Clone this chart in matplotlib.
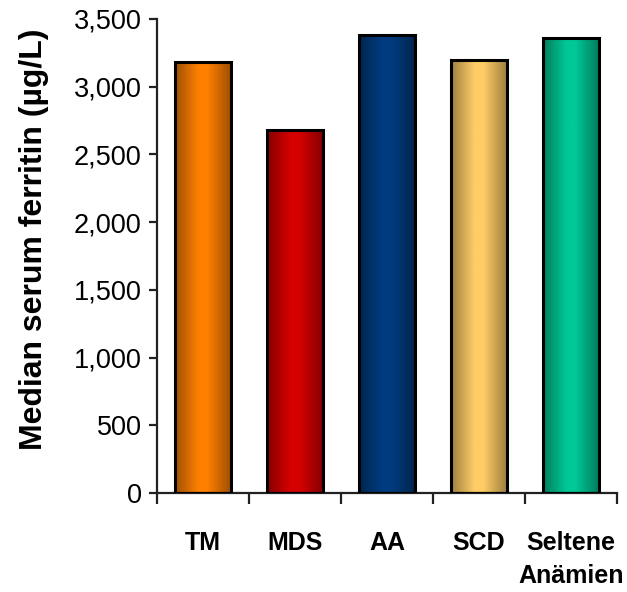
import numpy as np
import matplotlib
matplotlib.use("Agg")
import matplotlib.pyplot as plt
from matplotlib.patches import Rectangle
from matplotlib.colors import to_rgb
from matplotlib.ticker import FuncFormatter, FixedLocator

# Median serum ferritin by diagnosis
categories = ["TM", "MDS", "AA", "SCD", "Seltene\nAnämien"]
values = [3180, 2680, 3380, 3195, 3360]
bar_colors = ["#FF8000", "#D60000", "#003C80", "#FFCC66", "#00C896"]
y_ticks = [0, 500, 1000, 1500, 2000, 2500, 3000, 3500]
y_label = "Median serum ferritin (µg/L)"

fig = plt.figure(figsize=(6.27, 5.92), dpi=100)
ax = fig.add_axes([157 / 627, 1 - 493 / 592, 460 / 627, 474 / 592])

x = np.arange(len(categories))
width = 0.6

# horizontal shading profile: darker edges, bright middle
prof_x = np.linspace(0, 1, 256)
shade = np.interp(prof_x, [0, 0.42, 0.58, 1], [0.62, 1.0, 1.0, 0.62])

for xi, v, c in zip(x, values, bar_colors):
    base = np.array(to_rgb(c))
    img = (base[None, :] * shade[:, None])[None, :, :]
    img = np.clip(img, 0, 1)
    left = xi - width / 2
    rect = Rectangle((left, 0), width, v, facecolor="none",
                     edgecolor="black", linewidth=2.2, zorder=3)
    ax.add_patch(rect)
    im = ax.imshow(img, extent=(left, left + width, 0, v), aspect="auto",
                   interpolation="bilinear", zorder=2)
    im.set_clip_path(rect)

ax.set_xlim(-0.5, len(categories) - 0.5)
ax.set_ylim(0, 3500)

ax.spines["top"].set_visible(False)
ax.spines["right"].set_visible(False)
for s in ("left", "bottom"):
    ax.spines[s].set_linewidth(1.6)
    ax.spines[s].set_color("#222222")

ax.set_yticks(y_ticks)
ax.yaxis.set_major_formatter(FuncFormatter(lambda v, p: f"{int(v):,}"))
ax.tick_params(axis="y", direction="out", length=6, width=1.6,
               color="#222222", pad=5, labelsize=19.5)
for lab in ax.get_yticklabels():
    lab.set_fontfamily(["Liberation Sans", "DejaVu Sans"])

# category labels centred on bars, tick marks between categories
ax.set_xticks(x)
ax.set_xticklabels(categories)
ax.xaxis.set_minor_locator(FixedLocator(np.arange(-0.5, len(categories), 1.0)))
ax.tick_params(axis="x", which="major", length=0, pad=27)
ax.tick_params(axis="x", which="minor", direction="out", length=8,
               width=1.6, color="#222222")
for lab in ax.get_xticklabels():
    lab.set_fontfamily(["Liberation Sans", "DejaVu Sans"])
    lab.set_fontweight("bold")
    lab.set_fontsize(18)
    lab.set_linespacing(1.5)

ax.set_ylabel(y_label, fontsize=23, fontweight="bold",
              family=["Liberation Sans", "DejaVu Sans"])
ax.yaxis.set_label_coords(-0.235, 0.535)

fig.savefig("out.png", dpi=100)
